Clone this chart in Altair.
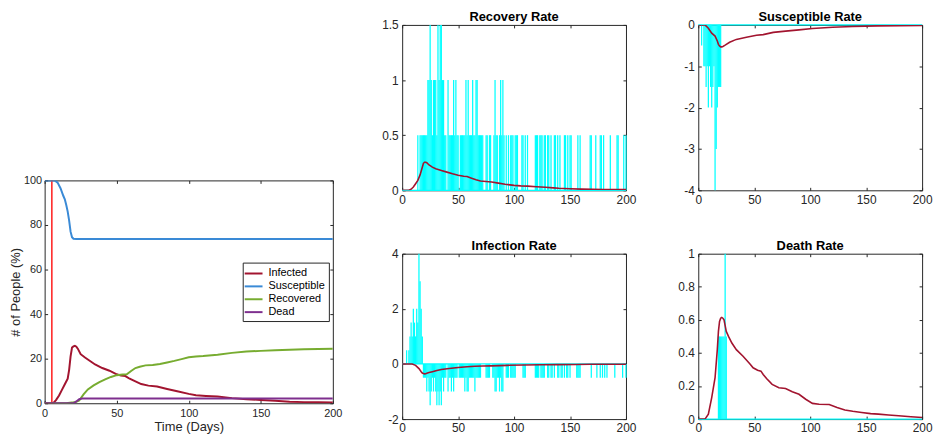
import altair as alt
import pandas as pd

FONT = "Liberation Sans"
INK = "#262626"
CYAN = "#00FFFF"
DARK_RED = "#A2142F"

# ---------------- left panel: population curves ----------------
series_names = ["Infected", "Susceptible", "Recovered", "Dead"]
series_colors = ["#A2142F", "#3A8AD6", "#77AC30", "#7E2F8E"]

inf_t = [0, 6, 8, 10, 12, 14, 16, 17, 18, 19, 20, 21, 22, 23, 25, 28, 31, 35, 40, 45,
         50, 53, 56, 59, 63, 67, 72, 78, 85, 92, 100, 105, 112, 120, 130, 140, 150, 160,
         170, 180, 190, 200]
inf_v = [0, 0, 1.5, 3.5, 6, 8.5, 11, 15, 21, 25, 25.5, 25.8, 25.4, 24.5, 22, 20.5, 19.2,
         17.4, 15.8, 14.6, 13, 12.4, 12.2, 11, 9.8, 8.6, 7.9, 7.5, 6.4, 5.4, 4.2, 3.6, 3.3,
         3, 2.3, 1.8, 1.5, 1.1, 0.7, 0.5, 0.4, 0.3]

sus_t = [0, 7, 9, 11, 13, 14, 15, 16, 17, 18, 19, 20, 22, 200]
sus_v = [100, 100, 99, 96.5, 93, 91.5, 89, 86, 82, 77, 74.5, 73.8, 73.7, 73.7]

recd_t = [0, 15, 20, 22, 24, 27, 30, 34, 38, 42, 46, 50, 54, 57, 60, 63, 66, 70, 75, 80,
          85, 90, 95, 100, 105, 110, 120, 130, 140, 150, 160, 170, 180, 190, 200]
recd_v = [0, 0, 0.4, 0.6, 1.2, 4, 6.2, 8, 9.5, 10.7, 11.8, 12.6, 12.9, 13, 14.5, 15.8,
          16.4, 17, 17.2, 17.6, 18.3, 19, 19.8, 20.6, 21, 21.2, 21.8, 22.6, 23.2, 23.5,
          23.8, 24, 24.2, 24.3, 24.5]

dead_t = [0, 20, 22, 24, 26, 200]
dead_v = [0, 0, 0.8, 1.8, 2.1, 2.1]

marker_day = [5]

# ---------------- rate curves (smoothed, dark red) ----------------
rr_t = [0, 6, 8, 10, 12, 14, 16, 18, 19, 20, 21, 22, 24, 27, 30, 35, 40, 45, 50, 55, 58,
        62, 66, 70, 75, 80, 86, 92, 100, 106, 112, 120, 128, 135, 140, 150, 160, 170, 180,
        190, 200]
rr_v = [0, 0, 0.01, 0.03, 0.06, 0.09, 0.14, 0.21, 0.245, 0.255, 0.255, 0.25, 0.23, 0.21,
        0.195, 0.18, 0.165, 0.15, 0.137, 0.128, 0.125, 0.11, 0.095, 0.085, 0.08, 0.075,
        0.065, 0.055, 0.045, 0.04, 0.038, 0.033, 0.028, 0.022, 0.018, 0.014, 0.011, 0.009,
        0.008, 0.007, 0.006]

sr_t = [0, 6, 9, 12, 15, 17, 18, 19, 20, 21, 22, 24, 28, 34, 43, 52, 58, 67, 78, 90, 102,
        120, 138, 160, 180, 200]
sr_v = [0, 0, -0.08, -0.2, -0.27, -0.39, -0.47, -0.51, -0.53, -0.53, -0.52, -0.49, -0.42,
        -0.35, -0.3, -0.25, -0.235, -0.18, -0.15, -0.12, -0.086, -0.055, -0.04, -0.024,
        -0.016, -0.01]

ir_t = [0, 9, 12, 15, 17, 18, 19, 20, 21, 22, 24, 27, 31, 35, 42, 50, 58, 65, 72, 80, 94,
        109, 125, 139, 155, 168, 185, 200]
ir_v = [0, 0, -0.05, -0.17, -0.28, -0.33, -0.35, -0.36, -0.355, -0.34, -0.31, -0.28, -0.24,
        -0.2, -0.165, -0.13, -0.1, -0.083, -0.075, -0.07, -0.05, -0.035, -0.03, -0.024,
        -0.018, -0.012, -0.01, -0.01]

dr_t = [0, 6, 9, 12, 15, 17, 18, 19, 20, 21, 22, 23, 25, 27, 30, 34, 40, 46, 49, 53, 56,
        58, 61, 66, 72, 78, 84, 90, 96, 102, 108, 117, 124, 131, 138, 146, 154, 161, 170,
        179, 190, 200]
dr_v = [0, 0, 0.03, 0.13, 0.25, 0.42, 0.53, 0.59, 0.61, 0.615, 0.61, 0.6, 0.53, 0.5, 0.46,
        0.42, 0.38, 0.335, 0.31, 0.295, 0.29, 0.27, 0.245, 0.21, 0.19, 0.185, 0.165, 0.15,
        0.12, 0.095, 0.09, 0.088, 0.07, 0.055, 0.047, 0.04, 0.033, 0.03, 0.025, 0.02,
        0.014, 0.01]

# ---------------- daily raw rates (cyan spikes, non-zero days only) ----------------
rec_day = [14, 16, 17, 18, 19, 20, 21, 22, 23, 24, 25, 26, 27, 28, 29, 30,
           31, 32, 33, 34, 35, 36, 37, 38, 39, 41, 42, 43, 44, 45, 46, 47,
           48, 49, 50, 52, 53, 54, 55, 56, 57, 58, 59, 60, 61, 62, 63, 64,
           65, 66, 67, 68, 69, 70, 71, 72, 75, 76, 78, 79, 82, 83, 84, 85,
           87, 88, 89, 90, 91, 93, 95, 97, 98, 99, 101, 102, 103, 107, 108, 110,
           112, 119, 120, 121, 123, 124, 125, 127, 128, 130, 131, 133, 136, 137, 139, 141,
           145, 146, 148, 150, 151, 157, 159, 168, 169, 173, 177, 178, 180, 186, 192, 193,
           198, 200]
rec_val = [0.5, 0.5, 0.5, 0.5, 0.5, 0.5, 0.5, 0.5, 1, 1, 1.5, 1, 0.5, 1, 1, 1,
           0.5, 1.5, 1, 1.5, 1.5, 1, 1, 0.5, 0.5, 1, 0.5, 0.5, 0.5, 0.5, 1, 0.5,
           1, 0.5, 0.5, 0.5, 0.5, 0.5, 0.5, 0.5, 1, 0.5, 1, 0.5, 0.5, 0.5, 1, 0.5,
           0.5, 1, 1, 0.5, 0.5, 0.5, 0.5, 0.5, 0.5, 0.5, 0.5, 0.5, 0.5, 1, 0.5, 0.5,
           0.5, 1, 0.5, 1, 0.5, 0.5, 0.5, 0.5, 0.5, 0.5, 0.5, 0.5, 0.5, 0.5, 0.5, 0.5,
           0.5, 0.5, 0.5, 0.5, 0.5, 0.5, 0.5, 0.5, 0.5, 0.5, 0.5, 0.5, 0.5, 0.5, 0.5, 0.5,
           0.5, 0.5, 0.5, 0.5, 0.5, 0.5, 0.5, 0.5, 0.5, 0.5, 0.5, 0.5, 0.5, 0.5, 0.5, 0.5,
           0.5, 0.5]

sus_day = [3, 5, 6, 7, 8, 9, 10, 11, 12, 13, 14, 15, 16, 17, 18, 19, 20]
sus_val = [-0.5, -1, -1, -1.5, -1, -2, -1, -1.5, -2, -1.5, -1, -4, -3, -2, -1.5, -1.5, -1.5]

inf_day = [4, 6, 7, 8, 9, 10, 11, 12, 13, 14, 15, 16, 17, 18, 19, 20,
           21, 22, 23, 24, 25, 26, 27, 28, 29, 30, 31, 32, 33, 34, 35, 36,
           37, 38, 39, 41, 42, 43, 44, 45, 46, 47, 48, 49, 51, 52, 53, 54,
           55, 56, 57, 58, 59, 60, 61, 62, 63, 64, 65, 66, 67, 68, 69, 70,
           75, 76, 77, 78, 81, 82, 83, 84, 85, 86, 87, 88, 89, 90, 93, 94,
           95, 97, 98, 99, 100, 101, 108, 109, 110, 119, 120, 121, 122, 124, 125, 126,
           127, 130, 131, 133, 134, 136, 139, 140, 142, 143, 145, 147, 148, 150, 156, 157,
           158, 159, 169, 174, 177, 179, 181, 183, 190, 197, 200]
inf_val = [0.5, 0.5, 1, 1.5, 1, 2, 1.5, 1, 2, 1.5, 4, 3, 2, 1, -0.5, -0.5,
           -0.5, -1, -0.5, -1, -1.5, -1, -0.5, -1, -0.5, -1, -1.5, -1, -1.5, -1, -1.5, -0.5,
           -1, -0.5, -0.5, -1, -0.5, -0.5, -1, -0.5, -1, -0.5, -0.5, -0.5, -0.5, -0.5, -0.5, -0.5,
           -0.5, -1, -0.5, -1, -1, -0.5, -0.5, -0.5, -0.5, -0.5, -1, -0.5, -0.5, -0.5, -0.5, -0.5,
           -0.5, -0.5, -0.5, -0.5, -0.5, -0.5, -1, -1, -0.5, -0.5, -1, -0.5, -1, -1, -0.5, -0.5,
           -0.5, -0.5, -0.5, -0.5, -0.5, -0.5, -0.5, -0.5, -0.5, -0.5, -0.5, -0.5, -0.5, -0.5, -0.5, -0.5,
           -0.5, -0.5, -0.5, -0.5, -0.5, -0.5, -0.5, -0.5, -0.5, -0.5, -0.5, -0.5, -0.5, -0.5, -0.5, -0.5,
           -0.5, -0.5, -0.5, -0.5, -0.5, -0.5, -0.5, -0.5, -0.5, -0.5, -0.5]

death_day = [18, 19, 20, 21, 22, 23, 24, 25]
death_val = [0.5, 0.5, 0.5, 0.5, 0.5, 0.5, 1, 0.5]

baseline_t = [0, 200]
baseline_v = [0, 0]

# ---------------- tick values ----------------
x_ticks = [0, 50, 100, 150, 200]
left_y_ticks = [0, 20, 40, 60, 80, 100]
rec_y_ticks = [0, 0.5, 1, 1.5]
sus_y_ticks = [-4, -3, -2, -1, 0]
inf_y_ticks = [-2, 0, 2, 4]
death_y_ticks = [0, 0.2, 0.4, 0.6, 0.8, 1]


def make_axis(values, span, size, pad, title=None, title_pad=2):
    kw = dict(values=values, grid=True, gridDash=[3, span - 6, 3], gridColor=INK,
              gridWidth=1, gridOpacity=1, ticks=False, domain=False, labelFlush=False,
              labelOverlap=False, labelFont=FONT, labelFontSize=size, labelColor=INK,
              labelPadding=pad, labelExpr="toString(datum.value)")
    if title:
        kw.update(title=title, titleFont=FONT, titleFontSize=13, titleFontWeight="normal",
                  titleColor=INK, titlePadding=title_pad)
    else:
        kw["title"] = None
    return alt.Axis(**kw)


# ---------------- left chart ----------------
LW, LH = 291, 225
SPACER_H = 157
left_df = pd.concat([
    pd.DataFrame({"t": inf_t, "v": inf_v, "series": "Infected"}),
    pd.DataFrame({"t": sus_t, "v": sus_v, "series": "Susceptible"}),
    pd.DataFrame({"t": recd_t, "v": recd_v, "series": "Recovered"}),
    pd.DataFrame({"t": dead_t, "v": dead_v, "series": "Dead"}),
], ignore_index=True)

lx = alt.X("t:Q", scale=alt.Scale(domain=[0, 200], nice=False, zero=False),
           axis=make_axis(x_ticks, LH, 11, 4, "Time (Days)", 3))
ly = alt.Y("v:Q", scale=alt.Scale(domain=[0, 100], nice=False, zero=False),
           axis=make_axis(left_y_ticks, LW, 11, 3, "# of People (%)", 1))

marker = alt.Chart(pd.DataFrame({"t": marker_day})).mark_rule(
    color="#FF1A1A", strokeWidth=1.5).encode(x=lx)

legend = alt.Legend(orient="none", legendX=200, legendY=SPACER_H + 83, title=None,
                    direction="vertical", strokeColor=INK, fillColor="white", padding=4,
                    labelFont=FONT, labelFontSize=11, labelColor="black",
                    symbolType="M-1.5,0L1.5,0", symbolSize=144, symbolStrokeWidth=2,
                    rowPadding=1, labelOffset=8, cornerRadius=0)

lines = alt.Chart(left_df).mark_line(strokeWidth=2, clip=True).encode(
    x=lx, y=ly,
    color=alt.Color("series:N",
                    scale=alt.Scale(domain=series_names, range=series_colors),
                    legend=legend),
)

left = alt.layer(marker, lines).properties(width=LW, height=LH)

spacer = alt.Chart(pd.DataFrame({"t": [0]})).mark_text(text="").encode(
    x=alt.value(0), y=alt.value(0)
).properties(width=1, height=SPACER_H, view=alt.ViewBackground(stroke="transparent"))

left_col = alt.vconcat(spacer, left, spacing=0, bounds="flush")

# ---------------- rate panels ----------------
RW, RH = 226, 167


def rate_panel(title, ct, cv, sd, sv, ydom, yticks):
    xs = alt.X("t:Q", scale=alt.Scale(domain=[0, 200], nice=False, zero=False),
               axis=make_axis(x_ticks, RH, 12, 4))
    ys = alt.Y("v:Q", scale=alt.Scale(domain=ydom, nice=False, zero=False),
               axis=make_axis(yticks, RW, 12, 4))
    base = alt.Chart(pd.DataFrame({"t": baseline_t, "v": baseline_v})).mark_line(
        color=CYAN, strokeWidth=1.2).encode(x=xs, y=ys)
    spikes = alt.Chart(pd.DataFrame({"t": sd, "v": sv})).mark_rule(
        color=CYAN, strokeWidth=1.25).encode(x=xs, y=ys, y2=alt.datum(0))
    curve = alt.Chart(pd.DataFrame({"t": ct, "v": cv})).mark_line(
        color=DARK_RED, strokeWidth=1.6, clip=True).encode(x=xs, y=ys)
    return alt.layer(base, spikes, curve).properties(
        width=RW, height=RH,
        title=alt.TitleParams(text=title, font=FONT, fontSize=13, fontWeight="bold",
                              color="black", offset=-5),
    )


rec_panel = rate_panel("Recovery Rate", rr_t, rr_v, rec_day, rec_val, [0, 1.5], rec_y_ticks)
sus_panel = rate_panel("Susceptible Rate", sr_t, sr_v, sus_day, sus_val, [-4, 0], sus_y_ticks)
inf_panel = rate_panel("Infection Rate", ir_t, ir_v, inf_day, inf_val, [-2, 4], inf_y_ticks)
death_panel = rate_panel("Death Rate", dr_t, dr_v, death_day, death_val, [0, 1], death_y_ticks)

right = alt.concat(rec_panel, sus_panel, inf_panel, death_panel, columns=2,
                   spacing={"row": 64, "column": 73}, bounds="flush")

chart = alt.hconcat(left_col, right, spacing=38).properties(
    padding={"left": 1, "top": 0, "right": 0, "bottom": 0}
).configure(font=FONT).configure_view(stroke=INK, strokeWidth=1)

chart.save("out.html", embed_options={"renderer": "svg", "actions": False})
